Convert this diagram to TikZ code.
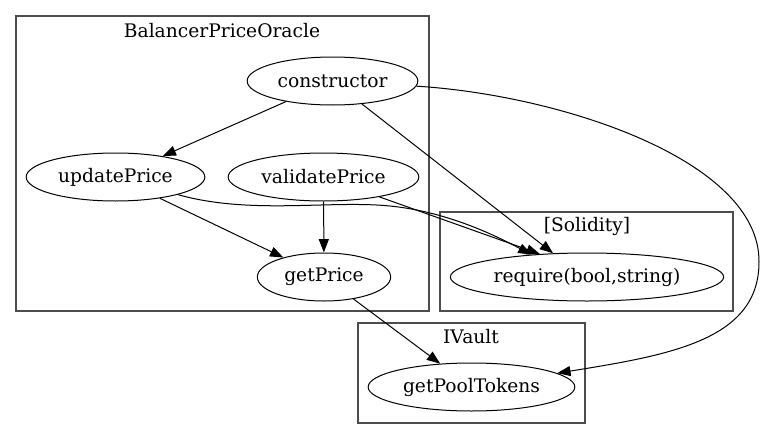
\documentclass[tikz,border=0pt]{standalone}
\usepackage{fontspec}
\setmainfont{DejaVu Serif}
\usetikzlibrary{shapes.geometric,arrows.meta}
\begin{document}
\begin{tikzpicture}
		[x=0.75pt, y=-0.75pt,
		every node/.style={inner sep=0pt, font=\fontsize{14}{16}\selectfont},
		fn/.style={ellipse, draw, line width=0.75pt, minimum height=36pt},
		cluster/.style={draw=black!70, line width=1pt},
		call/.style={-{Triangle[length=10pt, width=7.5pt]}, line width=0.75pt}]
		\useasboundingbox (0,0) rectangle (764,439);
		\draw[cluster] (16,16) rectangle (429,311);
		\draw[cluster] (440,212) rectangle (733,311);
		\draw[cluster] (358,323) rectangle (585,423);
		\node (oracle) at (222,31) {BalancerPriceOracle};
		\node (solidity) at (587,226) {[Solidity]};
		\node (ivault) at (471,337) {IVault};
		
		\node[fn, minimum width=128pt] (constructor) at (332.5,81) {constructor};
		\node[fn, minimum width=134pt] (updatePrice) at (115.5,177) {updatePrice};
		\node[fn, minimum width=143pt] (validatePrice) at (323.5,177) {validatePrice};
		\node[fn, minimum width=100pt] (getPrice) at (324,277) {getPrice};
		\node[fn, minimum width=205pt] (require) at (587,277) {require(bool,string)};
		\node[fn, minimum width=155pt] (getPoolTokens) at (471.5,387) {getPoolTokens};
		
		\path[call] (constructor) edge (updatePrice);
		\path[call] (constructor) edge (require.145);
		\path[call] (updatePrice) edge (getPrice);
		\path[call] (validatePrice) edge (getPrice);
		\path[call] (validatePrice) edge (require.154);
		\path[call] (getPrice) edge (getPoolTokens);
		\draw[call] (updatePrice) .. controls (250,215) and (330,200) .. (390,206) .. controls (450,212) and (500,238) .. (require.158);
		\draw[call] (constructor) .. controls (560,95) and (760,160) .. (759,262) .. controls (759,340) and (670,355) .. (getPoolTokens);
		\end{tikzpicture}
\end{document}
